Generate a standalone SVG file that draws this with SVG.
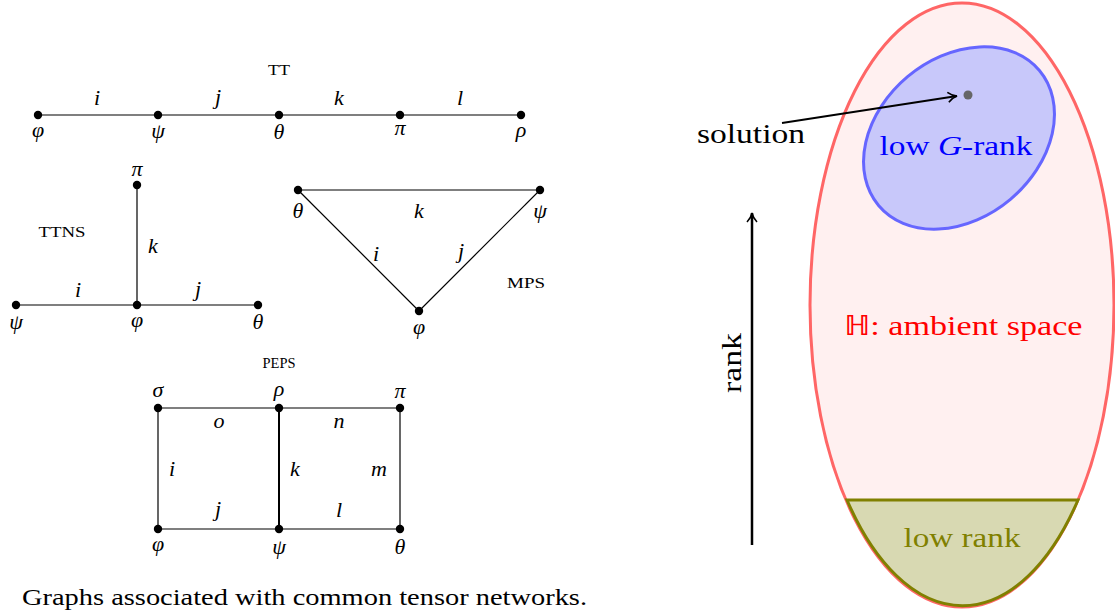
<svg xmlns="http://www.w3.org/2000/svg" width="1115" height="613" viewBox="0 0 1115 613">
<style>
.e{stroke:#000;stroke-width:1.2;fill:none}
.n{fill:#000}
.m{font-family:"Liberation Serif",serif;font-style:italic;font-size:22px;text-anchor:middle;fill:#000}
.sc{font-family:"Liberation Serif",serif;font-size:15px;text-anchor:middle;fill:#000}
</style>
<defs>
<marker id="to" viewBox="0 0 12 12" refX="10" refY="6" markerWidth="12" markerHeight="12" markerUnits="userSpaceOnUse" orient="auto">
<path d="M1,1 Q5,5 10,6 Q5,7 1,11" fill="none" stroke="#000" stroke-width="1.6"/>
</marker>
</defs>
<rect width="1115" height="613" fill="#fff"/>
<g id="connectors">
<line class="e" x1="38" y1="115" x2="521" y2="115"/>
<line class="e" x1="16" y1="305" x2="258" y2="305"/>
<line class="e" x1="137" y1="185" x2="137" y2="305"/>
<line class="e" x1="298" y1="190" x2="540" y2="190"/>
<line class="e" x1="298" y1="190" x2="419" y2="311"/>
<line class="e" x1="540" y1="190" x2="419" y2="311"/>
<line class="e" x1="158" y1="408" x2="400" y2="408"/>
<line class="e" x1="158" y1="529" x2="400" y2="529"/>
<line class="e" x1="158" y1="408" x2="158" y2="529" stroke="#555"/>
<line class="e" x1="400" y1="408" x2="400" y2="529" stroke="#555"/>
<line x1="279" y1="408" x2="279" y2="529" stroke="#000" stroke-width="2"/>
</g>
<g id="tt">
<text class="sc" x="279" y="75" textLength="22" lengthAdjust="spacingAndGlyphs">TT</text>
<circle class="n" cx="38" cy="115" r="4.2"/><circle class="n" cx="158" cy="115" r="4.2"/><circle class="n" cx="279" cy="115" r="4.2"/><circle class="n" cx="400" cy="115" r="4.2"/><circle class="n" cx="521" cy="115" r="4.2"/>
<text class="m" x="38" y="137">φ</text><text class="m" x="158" y="138">ψ</text><text class="m" x="279" y="139">θ</text><text class="m" x="400" y="135">π</text><text class="m" x="521" y="137">ρ</text>
<text class="m" x="97" y="105">i</text><text class="m" x="218" y="104">j</text><text class="m" x="339" y="105">k</text><text class="m" x="460" y="105">l</text>
</g>
<g id="ttns">
<text class="sc" x="62" y="237" textLength="47" lengthAdjust="spacingAndGlyphs">TTNS</text>
<circle class="n" cx="137" cy="185" r="4.2"/><circle class="n" cx="137" cy="305" r="4.2"/><circle class="n" cx="16" cy="305" r="4.2"/><circle class="n" cx="258" cy="305" r="4.2"/>
<text class="m" x="137" y="176">π</text><text class="m" x="16" y="329">ψ</text><text class="m" x="137" y="327">φ</text><text class="m" x="258" y="329">θ</text>
<text class="m" x="153" y="253">k</text><text class="m" x="78" y="297">i</text><text class="m" x="198" y="296">j</text>
</g>
<g id="mps">
<text class="sc" x="526" y="288" textLength="38" lengthAdjust="spacingAndGlyphs">MPS</text>
<circle class="n" cx="298" cy="190" r="4.2"/><circle class="n" cx="540" cy="190" r="4.2"/><circle class="n" cx="419" cy="311" r="4.2"/>
<text class="m" x="298" y="218">θ</text><text class="m" x="540" y="218">ψ</text><text class="m" x="419" y="334">φ</text>
<text class="m" x="419" y="218">k</text><text class="m" x="376" y="261">i</text><text class="m" x="461" y="258">j</text>
</g>
<g id="peps">
<text class="sc" x="279" y="368" textLength="33" lengthAdjust="spacingAndGlyphs">PEPS</text>
<circle class="n" cx="158" cy="408" r="4.2"/><circle class="n" cx="279" cy="408" r="4.2"/><circle class="n" cx="400" cy="408" r="4.2"/>
<circle class="n" cx="158" cy="529" r="4.2"/><circle class="n" cx="279" cy="529" r="4.2"/><circle class="n" cx="400" cy="529" r="4.2"/>
<text class="m" x="158" y="397">σ</text><text class="m" x="279" y="396">ρ</text><text class="m" x="400" y="398">π</text>
<text class="m" x="158" y="551">φ</text><text class="m" x="279" y="554">ψ</text><text class="m" x="400" y="554">θ</text>
<text class="m" x="219" y="428">o</text><text class="m" x="339" y="428">n</text>
<text class="m" x="172" y="476">i</text><text class="m" x="295" y="476">k</text><text class="m" x="379" y="476">m</text>
<text class="m" x="218" y="516">j</text><text class="m" x="339" y="517">l</text>
</g>
<text id="caption" x="22" y="605" font-family="Liberation Serif, serif" font-size="24" textLength="565" lengthAdjust="spacingAndGlyphs" fill="#000">Graphs associated with common tensor networks.</text>
<g id="ambient">
<ellipse cx="962" cy="305" rx="152" ry="302" fill="#fff0f0" stroke="#ff6666" stroke-width="3"/>
<text x="963" y="335" font-family="Liberation Serif, serif" font-size="28" fill="#ff0000" text-anchor="middle" textLength="239" lengthAdjust="spacingAndGlyphs">ℍ: ambient space</text>
</g>
<g id="lowrank">
<path d="M847,500 L1078,500 A152,302 0 0 1 847,500 Z" fill="#d8d9b2" stroke="#808000" stroke-width="3"/>
<text x="962" y="547" font-family="Liberation Serif, serif" font-size="28" fill="#808000" text-anchor="middle" textLength="117" lengthAdjust="spacingAndGlyphs">low rank</text>
</g>
<g id="lowg">
<ellipse cx="0" cy="0" rx="105" ry="80" transform="translate(959,138) rotate(-40)" fill="#c8c8fa" stroke="#6666ff" stroke-width="3"/>
<text x="956" y="155" font-family="Liberation Serif, serif" font-size="28" fill="#0000ff" text-anchor="middle" textLength="153" lengthAdjust="spacingAndGlyphs">low <tspan font-style="italic">G</tspan>-rank</text>
</g>
<g id="solution">
<circle cx="968" cy="95" r="4.5" fill="#666"/>
<text x="697" y="143" font-family="Liberation Serif, serif" font-size="28" fill="#000" textLength="108" lengthAdjust="spacingAndGlyphs">solution</text>
</g>
<g id="rankaxis">
<text transform="translate(741,363) rotate(-90)" font-family="Liberation Serif, serif" font-size="28" fill="#000" text-anchor="middle" textLength="60" lengthAdjust="spacingAndGlyphs">rank</text>
</g>
<g id="arrows">
<line x1="782" y1="123" x2="957" y2="96" stroke="#000" stroke-width="2" marker-end="url(#to)"/>
<line x1="752" y1="545" x2="752" y2="213" stroke="#000" stroke-width="2.5" marker-end="url(#to)"/>
</g>
</svg>
